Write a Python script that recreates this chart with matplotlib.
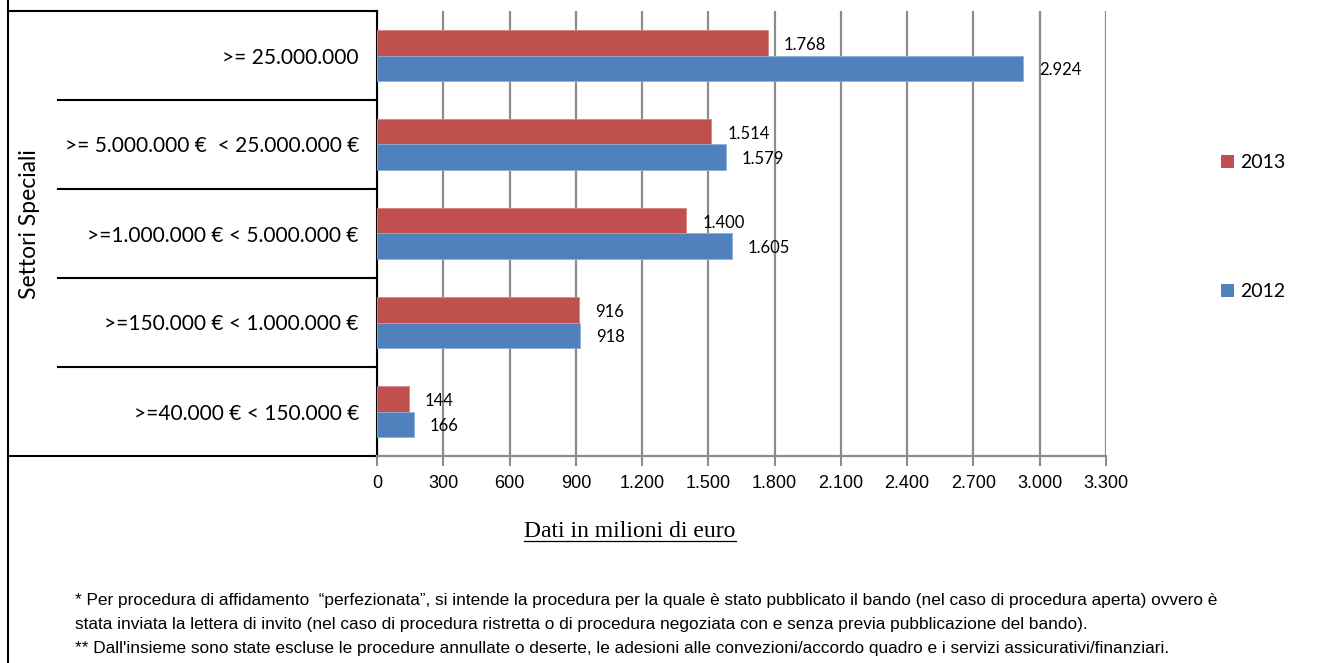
import matplotlib
matplotlib.use("Agg")
import matplotlib.pyplot as plt
from matplotlib.lines import Line2D
from matplotlib.patches import Patch
import matplotlib.transforms as mtransforms

# ---- data ----
categories = [">=40.000 € < 150.000 €",
              ">=150.000 € < 1.000.000 €",
              ">=1.000.000 € < 5.000.000 €",
              ">= 5.000.000 €  < 25.000.000 €",
              ">= 25.000.000"]
values_2013 = [144, 916, 1400, 1514, 1768]
values_2012 = [166, 918, 1605, 1579, 2924]
series_labels = ["2013", "2012"]
xticks = [0, 300, 600, 900, 1200, 1500, 1800, 2100, 2400, 2700, 3000, 3300]
group_title = "Settori Speciali"
xlabel = "Dati in milioni di euro"
footnotes = [
    "* Per procedura di affidamento  \u201cperfezionata\u201d, si intende la procedura per la quale è stato pubblicato il bando (nel caso di procedura aperta) ovvero è",
    "stata inviata la lettera di invito (nel caso di procedura ristretta o di procedura negoziata con e senza previa pubblicazione del bando).",
    "** Dall'insieme sono state escluse le procedure annullate o deserte, le adesioni alle convezioni/accordo quadro e i servizi assicurativi/finanziari.",
]

RED = "#C0504D"
BLUE = "#4F81BD"
GRID = "#8c8c8c"

def it_fmt(v):
    return f"{v:,}".replace(",", ".")

W, H = 1323, 663
fig = plt.figure(figsize=(W / 100, H / 100), dpi=100)
SANS = ["Lato", "DejaVu Sans"]
NARROW = ["Liberation Sans Narrow", "Liberation Sans", "DejaVu Sans"]
SERIF = ["Liberation Serif", "DejaVu Serif"]

ax_l, ax_r, ax_t, ax_b = 377, 1106, 11, 456
ax = fig.add_axes([ax_l / W, 1 - ax_b / H, (ax_r - ax_l) / W, (ax_b - ax_t) / H])

n = len(categories)
ys = list(range(n))
bh = 0.284
ax.barh([y + bh / 2 for y in ys], values_2013, height=bh, color=RED,
        edgecolor="#d98583", linewidth=0.6, label=series_labels[0], zorder=3)
ax.barh([y - bh / 2 for y in ys], values_2012, height=bh, color=BLUE,
        edgecolor="#8fb0da", linewidth=0.6, label=series_labels[1], zorder=3)

for y, v in zip(ys, values_2013):
    ax.annotate(it_fmt(v), (v, y + bh / 2), xytext=(16, -2), textcoords="offset pixels",
                ha="left", va="center", fontsize=12, family=SANS, zorder=4)
for y, v in zip(ys, values_2012):
    ax.annotate(it_fmt(v), (v, y - bh / 2), xytext=(16, -2), textcoords="offset pixels",
                ha="left", va="center", fontsize=12, family=SANS, zorder=4)

ax.set_xlim(0, 3300)
ax.set_ylim(-0.5, n - 0.5)
ax.set_xticks(xticks)
ax.set_xticklabels([it_fmt(t) for t in xticks], family=NARROW, fontsize=13)
ax.tick_params(axis="x", length=7, width=1.5, color=GRID, pad=7)
ax.xaxis.grid(True, color=GRID, linewidth=1.6, zorder=0)
ax.set_axisbelow(True)

ax.set_yticks([y - 0.5 for y in ys] + [n - 0.5])
ax.set_yticklabels([])
ax.tick_params(axis="y", which="major", length=4, width=1.5, color="black")
ax.set_yticks(ys, minor=True)
ax.set_yticklabels(categories, minor=True, family=SANS, fontsize=15)
ax.tick_params(axis="y", which="minor", length=0, pad=13)

for s in ["top", "right"]:
    ax.spines[s].set_visible(False)
ax.spines["left"].set_color("black")
ax.spines["left"].set_linewidth(1.5)
ax.spines["bottom"].set_color(GRID)
ax.spines["bottom"].set_linewidth(1.6)

# category separators
trans = mtransforms.blended_transform_factory(ax.transAxes, ax.transData)
x_sep = (58 - ax_l) / (ax_r - ax_l)
x_edge = (8 - ax_l) / (ax_r - ax_l)
for b in range(1, n):
    ax.add_line(Line2D([x_sep, 0], [b - 0.5, b - 0.5], transform=trans, color="black",
                       linewidth=1.5, clip_on=False))
for b in (-0.5, n - 0.5):
    ax.add_line(Line2D([x_edge, 0], [b, b], transform=trans, color="black",
                       linewidth=1.5, clip_on=False))

# outer left border
fig.add_artist(Line2D([8 / W, 8 / W], [0, 1], transform=fig.transFigure, color="black", linewidth=1.5))

fig.text(30 / W, 1 - 224 / H, group_title, rotation=90, ha="center", va="center",
         family=SANS, fontsize=16.5)

# legend
handles = [Patch(facecolor=RED, edgecolor="none"), Patch(facecolor=BLUE, edgecolor="none")]
fig.legend(handles, series_labels, loc="center left", bbox_to_anchor=(1221 / W, 1 - 227 / H),
           frameon=False, prop={"family": SANS, "size": 14}, handlelength=0.65, handleheight=0.65,
           handletextpad=0.35, labelspacing=5.75, borderpad=0, borderaxespad=0)

# x label underlined
xl = fig.text(630 / W, 1 - 537 / H, xlabel, ha="center", va="baseline", family=SERIF, fontsize=17)
fig.canvas.draw()
bb = xl.get_window_extent(fig.canvas.get_renderer())
y_ul = (1 - 540.5 / H)
fig.add_artist(Line2D([bb.x0 / W, bb.x1 / W], [y_ul, y_ul], transform=fig.transFigure,
                      color="black", linewidth=0.9))

for i, line in enumerate(footnotes):
    fig.text(75 / W, 1 - (600 + 24 * i) / H, line, ha="left", va="center",
             family=NARROW, fontsize=12.4)

fig.savefig("out.png", dpi=100)
